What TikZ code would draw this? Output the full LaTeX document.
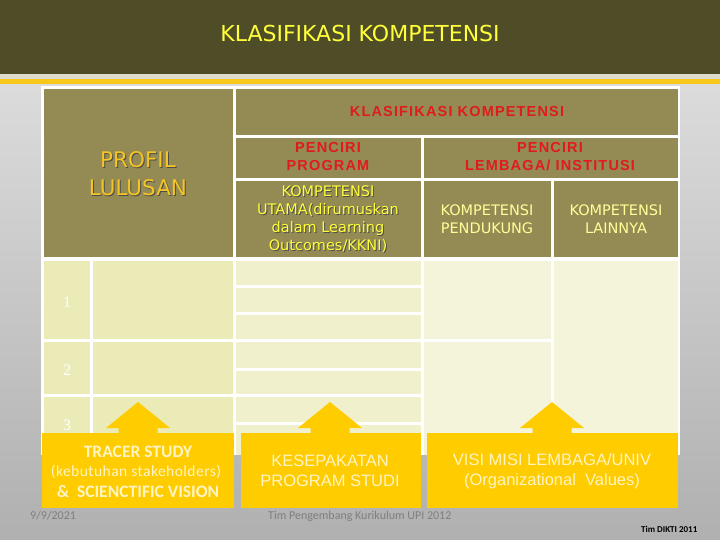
\documentclass[tikz,border=0pt]{standalone}
\usepackage{fontspec}
\setmainfont{Liberation Sans}
\newfontfamily\comicfont{DejaVu Sans}
\newfontfamily\redfont[LetterSpace=8]{Liberation Sans}
\newfontfamily\calfont{Carlito}
\newfontfamily\calspfont[LetterSpace=3]{Carlito}
\newfontfamily\numfont{Liberation Serif}
\definecolor{band}{HTML}{4F4D27}
\definecolor{strip}{HTML}{DEDCCE}
\definecolor{gold}{HTML}{F7C71C}
\definecolor{olive}{HTML}{948A54}
\definecolor{bodyA}{HTML}{EBEBB8}
\definecolor{bodyB}{HTML}{F0F0CD}
\definecolor{bodyC}{HTML}{F4F4DA}
\definecolor{ybox}{HTML}{FFCC00}
\definecolor{redtxt}{HTML}{E01B1B}
\definecolor{yeltxt}{HTML}{FFFF3A}
\definecolor{paletxt}{HTML}{FFFF99}
\definecolor{proftxt}{HTML}{F5C524}
\definecolor{boxtxt}{HTML}{FFF4C4}
\definecolor{foot}{HTML}{7F7F7F}
\tikzset{
  redlbl/.style={text=redtxt, font=\redfont\bfseries\fontsize{14.5}{18}\selectfont, align=center},
  comiclbl/.style={font=\comicfont\fontsize{14.5}{18}\selectfont, align=center},
  numlbl/.style={text=white, font=\numfont\fontsize{16}{16}\selectfont},
  boxlbl/.style={text=boxtxt, align=center},
}
\begin{document}
\begin{tikzpicture}[x=1pt,y=-1pt]
\useasboundingbox (0,0) rectangle (720,540);
% background
\shade[top color=gray!28, bottom color=gray!62] (0,84) rectangle (720,540);
\fill[band] (0,0) rectangle (720,74);
\fill[strip] (0,74) rectangle (720,79);
\fill[gold] (0,79) rectangle (720,84);
\node[text=yeltxt, font=\comicfont\fontsize{22}{22}\selectfont] (title) at (360,33) {KLASIFIKASI KOMPETENSI};
% table frame
\fill[white] (41,86) rectangle (680,455);
% header cells
\fill[olive] (44,89) rectangle (233,257);
\fill[olive] (236,89) rectangle (678,135);
\fill[olive] (236,138) rectangle (421,178);
\fill[olive] (424,138) rectangle (678,178);
\fill[olive] (236,181) rectangle (421,257);
\fill[olive] (424,181) rectangle (551,257);
\fill[olive] (554,181) rectangle (678,257);
% body cells
\foreach \ya/\yb in {261/339,342/394,397/455}{
  \fill[bodyA] (44,\ya) rectangle (90,\yb);
  \fill[bodyA] (93,\ya) rectangle (233,\yb);
}
\foreach \ya/\yb in {261/285,288/312,315/339,342/368,371/394,397/422,425/455}{
  \fill[bodyB] (236,\ya) rectangle (421,\yb);
}
\fill[bodyC] (424,261) rectangle (551,339);
\fill[bodyC] (424,342) rectangle (551,455);
\fill[bodyC] (554,261) rectangle (678,455);
% header texts
\node[redlbl] (klas) at (457,112) {KLASIFIKASI KOMPETENSI};
\node[redlbl] (pprog) at (328,157) {PENCIRI\\PROGRAM};
\node[redlbl] (plemb) at (550,157) {PENCIRI\\LEMBAGA/ INSTITUSI};
\node[text=black!70, font=\comicfont\fontsize{21.5}{28}\selectfont, align=center] at (139,175) {PROFIL\\LULUSAN};
\node[text=proftxt, font=\comicfont\fontsize{21.5}{28}\selectfont, align=center] (profil) at (138,174) {PROFIL\\LULUSAN};
\node[comiclbl, text=black!70] at (329,220) {KOMPETENSI\\UTAMA(dirumuskan\\dalam Learning\\Outcomes/KKNI)};
\node[comiclbl, text=yeltxt] (utama) at (328,219) {KOMPETENSI\\UTAMA(dirumuskan\\dalam Learning\\Outcomes/KKNI)};
\node[comiclbl, text=paletxt] (pendukung) at (487,219) {KOMPETENSI\\PENDUKUNG};
\node[comiclbl, text=paletxt] (lainnya) at (616,219) {KOMPETENSI\\LAINNYA};
% numbers
\node[numlbl] (n1) at (67,302) {1};
\node[numlbl] (n2) at (67,370) {2};
\node[numlbl] (n3) at (67,425) {3};
% yellow boxes
\fill[ybox] (42,433) rectangle (234,508);
\fill[ybox] (241,433) rectangle (421,508);
\fill[ybox] (427,433) rectangle (678,508);
\foreach \cx in {138,330,552}{
  \fill[ybox] (\cx,402) -- (\cx+32,428) -- (\cx+19.5,428) -- (\cx+19.5,434)
     -- (\cx-19.5,434) -- (\cx-19.5,428) -- (\cx-32,428) -- cycle;
}
\node[boxlbl, font=\calfont\bfseries\fontsize{17.5}{17.5}\selectfont] (tracer) at (138,452) {TRACER STUDY};
\node[boxlbl, font=\calspfont\fontsize{15.5}{15.5}\selectfont] (kebut) at (136,472) {(kebutuhan stakeholders)};
\node[boxlbl, font=\calfont\bfseries\fontsize{17.5}{17.5}\selectfont] (scien) at (138,492) {\&\ \ SCIENCTIFIC VISION};
\node[boxlbl, font=\fontsize{16.5}{19.5}\selectfont] (kesep) at (330,471) {KESEPAKATAN\\PROGRAM STUDI};
\node[boxlbl, font=\fontsize{16.5}{19.5}\selectfont] (visi) at (552,471) {VISI MISI LEMBAGA/UNIV\\(Organizational\ \ Values)};
% footers
\node[text=foot, font=\calfont\fontsize{12}{12}\selectfont, anchor=west, inner sep=0] (date) at (30,516) {9/9/2021};
\node[text=foot, font=\calfont\fontsize{12}{12}\selectfont, anchor=west, inner sep=0] (tim) at (268,516) {Tim Pengembang Kurikulum UPI 2012};
\node[text=black, font=\calfont\bfseries\fontsize{9}{9}\selectfont, anchor=west, inner sep=0] (dikti) at (641,529) {Tim DIKTI 2011};
\end{tikzpicture}
\end{document}
